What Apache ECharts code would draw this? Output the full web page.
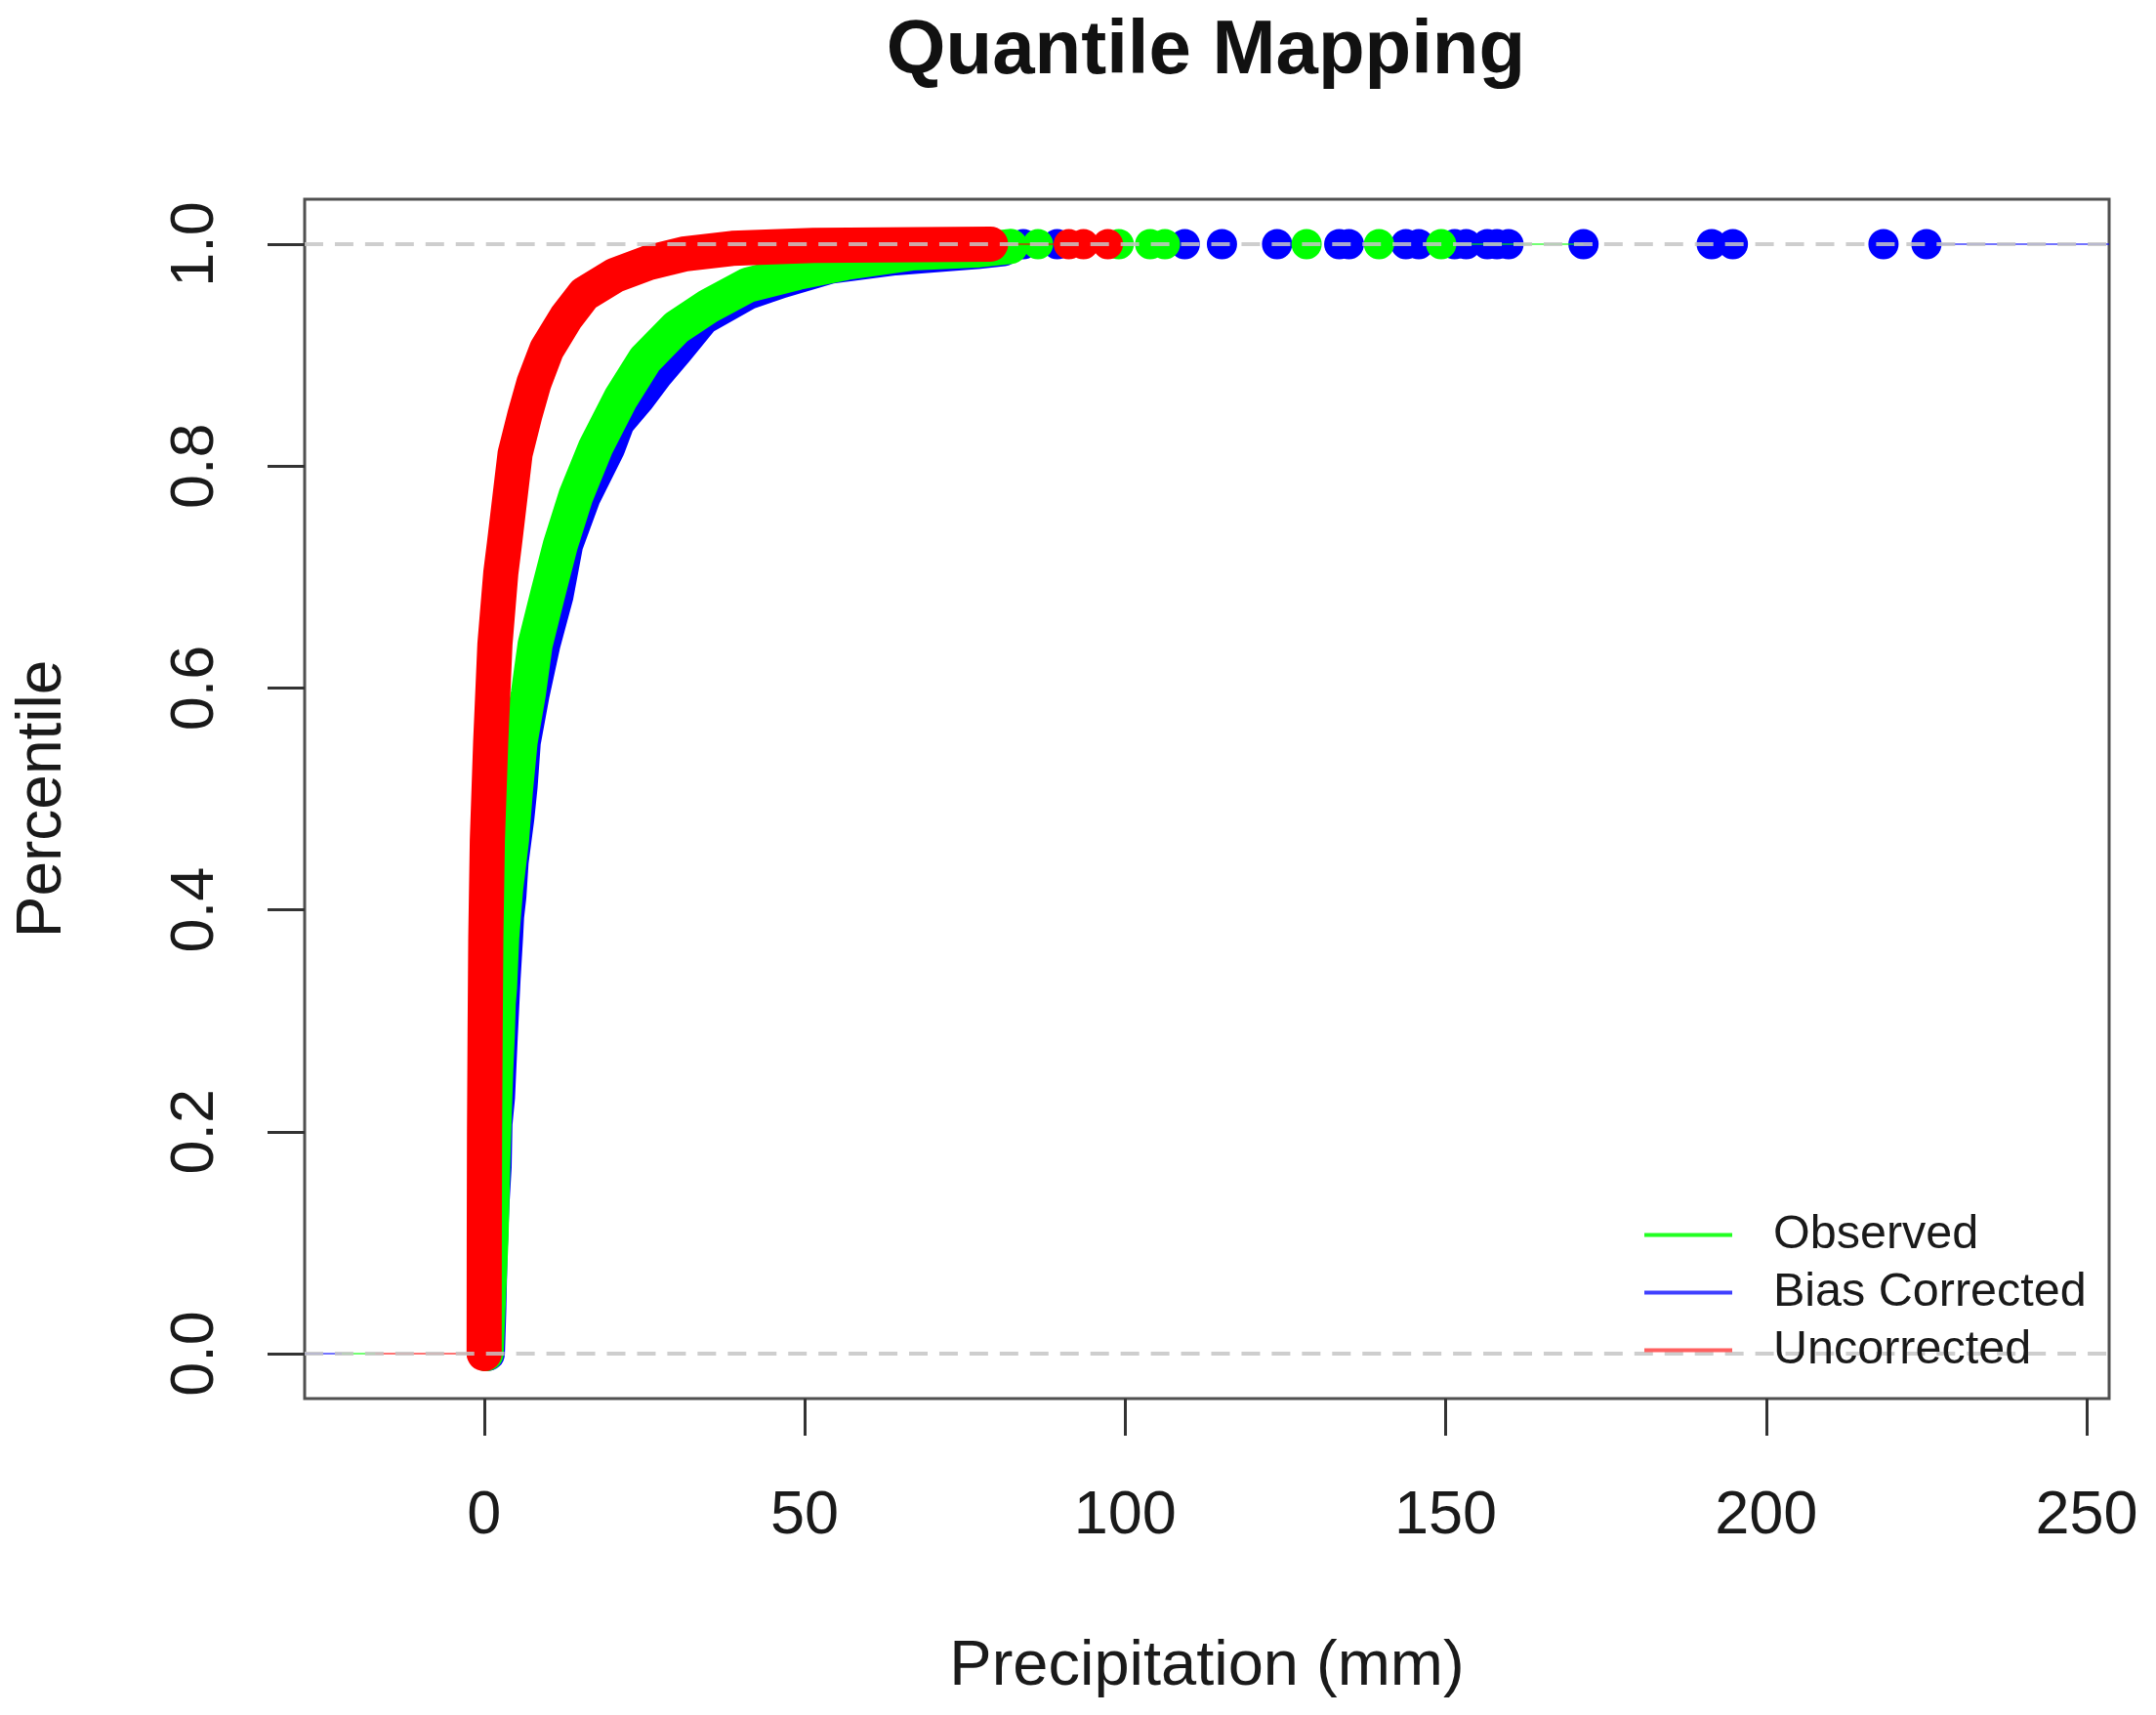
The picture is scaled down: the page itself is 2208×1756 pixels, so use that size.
<!DOCTYPE html>
<html>
<head>
<meta charset="utf-8">
<title>Quantile Mapping</title>
<script src="https://cdn.jsdelivr.net/npm/echarts@6/dist/echarts.min.js"></script>
<style>
    html, body { margin: 0; padding: 0; background: #fff; }
    #chart { width: 2208px; height: 1756px; }
</style>
</head>
<body>
<div id="chart"></div>
<script>
var xTicks = [0, 50, 100, 150, 200, 250];
var yTicks = [0, 0.2, 0.4, 0.6, 0.8, 1];

// values: precipitation (mm) against percentile
var blueP = [0, .04, .092, .136, .168, .207, .231, .285, .338, .377, .394, .412, .443, .483, .511, .551, .595, .639, .683, .729, .773, .817, .84, .861, .884, .905, .934, .957, .967, .98, .9877, .9933, .996];
var blueX = [.5, .72, .91, 1.22, 1.55, 1.68, 2.08, 2.5, 2.95, 3.35, 3.5, 3.85, 4.2, 5.1, 5.6, 6.1, 7.5, 9.15, 11.2, 12.7, 15.5, 19.3, 20.8, 23.9, 26.9, 30, 34.1, 41.2, 46.3, 53.9, 64.1, 76.8, 81];
var blueTail = [84.1, 89.4, 109.3, 115.1, 123.7, 133.4, 134.9, 143.8, 145.8, 151.4, 153.2, 156.5, 158, 159.8, 171.5, 191.5, 194.8, 218.3, 225];

var greenP = [0, .105, .188, .255, .287, .316, .33, .375, .419, .463, .507, .551, .595, .639, .683, .729, .773, .817, .861, .896, .925, .9445, .9633, .9745, .9835, .992, .9947, .998];
var greenX = [.3, 1.07, 1.42, 1.8, 2.05, 2.2, 2.4, 2.74, 3.35, 4.27, 4.87, 5.6, 6.9, 7.95, 9.85, 11.9, 14.3, 17.4, 21.3, 25.1, 30, 35.1, 41.2, 48.9, 56.5, 66.6, 76.8, 82.1];
var greenTail = [86.4, 99, 103.9, 106.2, 128.3, 139.6, 149.3];

var redP = [0, .1, .2, .287, .375, .463, .551, .639, .7036, .729, .811, .846, .875, .905, .934, .955, .972, .983, .991, .9962, .999, 1];
var redX = [0, .02, .06, .15, .26, .5, 1.02, 1.68, 2.6, 3.15, 4.83, 6.35, 7.77, 9.75, 12.8, 15.6, 20.4, 25.5, 31.1, 38.7, 51.4, 79];
var redTail = [91.2, 93.5, 97.3];

// thin ecdf lines running out to the plot edges [from, to, percentile]
var thinBlue = [[-28, -22.2, 0], [225, 253.5, 1]];
var thinGreen = [[-22.2, -17, 0], [149.3, 171.5, 1]];
var thinRed = [[-17, 0, 0], [79, 97.3, 1]];
var guideP = [0, 1];

var xRange = [-28, 253.5];
var yRange = [-0.0405, 1.0405];

var GREEN = "#00ff00", BLUE = "#0000ff", RED = "#ff0000";
var FONT = "Liberation Sans";
var DOT = 31;
var BAND = 36;

function pairs(xs, ys) {
    return xs.map(function (x, i) { return [x, ys[i]]; });
}

function curve(name, color, xs, ys, z) {
    return {
        name: name, type: "line", data: pairs(xs, ys), color: color, z: z,
        symbol: "circle", symbolSize: DOT, showSymbol: true, showAllSymbol: true,
        lineStyle: {color: color, width: BAND, cap: "round", join: "round"},
        itemStyle: {color: color}, silent: true
    };
}

function tail(name, color, xs, z) {
    return {
        name: name, type: "scatter", color: color, symbolSize: DOT, silent: true, z: z,
        itemStyle: {color: color, opacity: 1},
        data: xs.map(function (x) { return [x, 1]; })
    };
}

function thin(color, segments) {
    // null breaks the line between the two segments
    var data = [];
    segments.forEach(function (s) {
        data.push([s[0], s[2]], [s[1], s[2]], null);
    });
    return {
        type: "line", data: data, symbol: "none", silent: true, connectNulls: false, z: 20,
        lineStyle: {color: color, width: 2, opacity: 0.55}
    };
}

function guide(p) {
    return {
        type: "line", data: [[xRange[0], p], [xRange[1], p]], symbol: "none", silent: true, z: 21,
        lineStyle: {color: "#c6c6c6", width: 4, type: [19, 11.95], opacity: 0.85}
    };
}

var option = {
    animation: false,
    backgroundColor: "#fff",
    textStyle: {fontFamily: FONT},
    title: {
        text: "Quantile Mapping", left: 1230, top: 9, textAlign: "center",
        textStyle: {fontFamily: FONT, fontSize: 78, fontWeight: "bold", color: "#111"}
    },
    legend: {
        orient: "vertical", left: 1679, top: 1235, icon: "rect", z: 30,
        itemWidth: 90, itemHeight: 4, itemGap: 10,
        textStyle: {fontFamily: FONT, fontSize: 48.5, color: "#1a1a1a", padding: [0, 0, 0, 37], lineHeight: 48},
        data: [
            {name: "Observed", itemStyle: {color: "#22ff22"}},
            {name: "Bias Corrected", itemStyle: {color: "#4040ff"}},
            {name: "Uncorrected", itemStyle: {color: "#ff6060"}}
        ]
    },
    grid: {left: 312, top: 204, width: 1848, height: 1228, show: true, borderColor: "#505050", borderWidth: 3, backgroundColor: "#fff"},
    xAxis: {
        type: "value", min: xRange[0], max: xRange[1],
        name: "Precipitation (mm)", nameLocation: "middle", nameGap: 243,
        nameTextStyle: {fontFamily: FONT, fontSize: 65, color: "#1a1a1a"},
        axisLine: {show: false, onZero: false},
        axisTick: {show: true, length: 38, customValues: xTicks, lineStyle: {color: "#333", width: 3}},
        axisLabel: {show: true, customValues: xTicks, margin: 89, fontFamily: FONT, fontSize: 63, color: "#1a1a1a"},
        splitLine: {show: false}
    },
    yAxis: {
        type: "value", min: yRange[0], max: yRange[1],
        name: "Percentile", nameLocation: "middle", nameGap: 236,
        nameTextStyle: {fontFamily: FONT, fontSize: 64, color: "#1a1a1a"},
        axisLine: {show: false, onZero: false},
        axisTick: {show: true, length: 38, customValues: yTicks, lineStyle: {color: "#333", width: 3}},
        axisLabel: {
            show: true, customValues: yTicks, margin: 80, rotate: 90, fontFamily: FONT, fontSize: 63, color: "#1a1a1a",
            formatter: function (v) { return v.toFixed(1); }
        },
        splitLine: {show: false}
    },
    series: [
        curve("Bias Corrected", BLUE, blueX, blueP, 2),
        tail("Bias Corrected", BLUE, blueTail, 3),
        curve("Observed", GREEN, greenX, greenP, 4),
        tail("Observed", GREEN, greenTail, 5),
        curve("Uncorrected", RED, redX, redP, 6),
        tail("Uncorrected", RED, redTail, 7),
        thin(BLUE, thinBlue),
        thin(GREEN, thinGreen),
        thin(RED, thinRed),
        guide(guideP[0]),
        guide(guideP[1])
    ]
};

var chart = echarts.init(document.getElementById("chart"), null, {renderer: "canvas"});
chart.setOption(option);
</script>
</body>
</html>
